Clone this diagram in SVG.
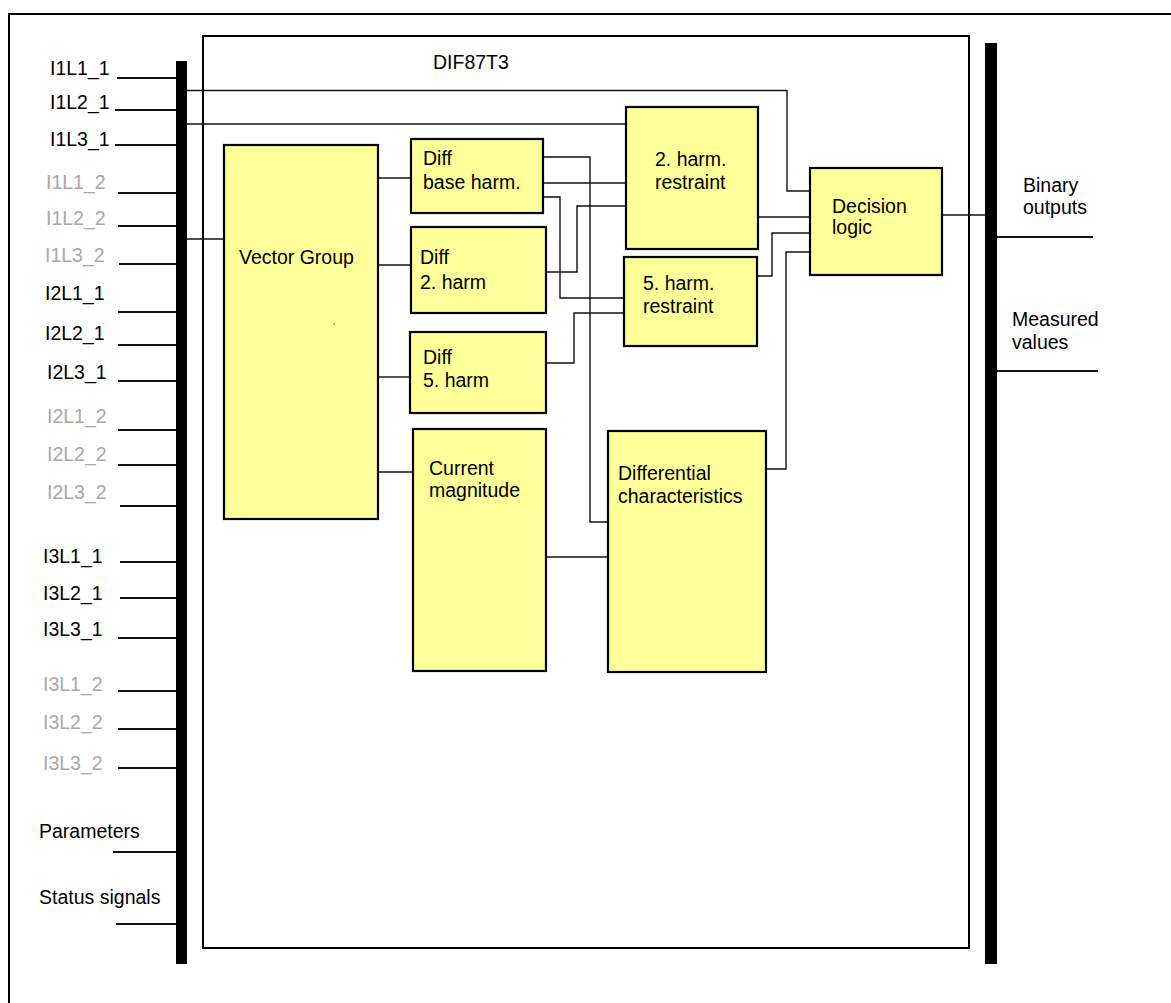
<svg xmlns="http://www.w3.org/2000/svg" width="1171" height="1003" viewBox="0 0 1171 1003">
<style>
text{font-family:"Liberation Sans",Arial,sans-serif;font-size:19.5px;fill:#000}
.g{fill:#a8a8a8}
.blk{fill:#ffff99;stroke:#000;stroke-width:2.2}
.w{fill:none;stroke:#111;stroke-width:1.4}
.in{fill:none;stroke:#000;stroke-width:2}
.bus{fill:#000}
</style>
<rect x="9" y="14" width="1175" height="1000" fill="none" stroke="#000" stroke-width="2"/>
<rect x="203" y="36" width="766" height="912" class="in"/>
<text x="433" y="69">DIF87T3</text>
<g id="bus-left"><rect class="bus" x="176" y="61" width="11" height="903"/></g>
<g id="bus-right"><rect class="bus" x="985" y="43" width="12" height="921"/></g>
<g id="inputs">
<text x="50" y="75">I1L1_1</text>
<text x="50" y="109">I1L2_1</text>
<text x="50" y="146">I1L3_1</text>
<text class="g" x="46" y="189">I1L1_2</text>
<text class="g" x="46" y="225">I1L2_2</text>
<text class="g" x="45" y="262">I1L3_2</text>
<text x="45" y="300">I2L1_1</text>
<text x="45" y="340">I2L2_1</text>
<text x="47" y="379">I2L3_1</text>
<text class="g" x="47" y="423">I2L1_2</text>
<text class="g" x="47" y="461">I2L2_2</text>
<text class="g" x="47" y="499">I2L3_2</text>
<text x="43" y="563">I3L1_1</text>
<text x="43" y="600">I3L2_1</text>
<text x="43" y="636">I3L3_1</text>
<text class="g" x="43" y="691">I3L1_2</text>
<text class="g" x="43" y="729">I3L2_2</text>
<text class="g" x="43" y="770">I3L3_2</text>
<text x="39" y="838">Parameters</text>
<text x="39" y="904">Status signals</text>
</g>
<g id="input-lines" class="w" stroke-width="2">
<path class="w" style="stroke-width:2" d="M117 78H176M115 110H176M115 145H176M118 193H176M118 226H176M119 264H176M118 312H176M118 345H176M118 381H176M118 430H176M118 465H176M120 506H176M120 562H176M120 598H176M118 638H176M118 691H176M118 729H176M118 768H176M113 852H176M116 924H176"/>
</g>
<g id="outputs">
<text x="1023" y="192">Binary</text>
<text x="1023" y="214">outputs</text>
<text x="1012" y="326">Measured</text>
<text x="1012" y="349">values</text>
<path class="w" style="stroke-width:2" d="M997 237H1093M997 371H1098"/>
</g>
<g id="connectors" class="w">
<path d="M187 90.5H787V191H810"/>
<path d="M187 124H626"/>
<path d="M187 239H224"/>
<path d="M378 178H411"/>
<path d="M378 265H411"/>
<path d="M378 377H410"/>
<path d="M378 472H413"/>
<path d="M543 157H590V522H608"/>
<path d="M543 183H626"/>
<path d="M543 197H560V298H624"/>
<path d="M546 272H577V206H626"/>
<path d="M546 363H574V313H624"/>
<path d="M758 217H810"/>
<path d="M757 276H772V233H810"/>
<path d="M766 469H786V252H810"/>
<path d="M546 557H608"/>
<path d="M942 215H985"/>
</g>
<g id="vector-group">
<rect class="blk" x="224" y="145" width="154" height="374"/>
<text x="239" y="264">Vector Group</text>
<rect x="333.5" y="323.5" width="1" height="1" fill="#000"/>
</g>
<g id="diff-base">
<rect class="blk" x="411" y="139" width="132" height="74"/>
<text x="423" y="165">Diff</text>
<text x="423" y="189">base harm.</text>
</g>
<g id="diff-2">
<rect class="blk" x="411" y="227" width="135" height="86"/>
<text x="420" y="264">Diff</text>
<text x="420" y="289">2. harm</text>
</g>
<g id="diff-5">
<rect class="blk" x="410" y="332" width="136" height="81"/>
<text x="423" y="364">Diff</text>
<text x="423" y="387">5. harm</text>
</g>
<g id="restraint-2">
<rect class="blk" x="626" y="107" width="132" height="142"/>
<text x="655" y="166">2. harm.</text>
<text x="655" y="189">restraint</text>
</g>
<g id="restraint-5">
<rect class="blk" x="624" y="257" width="133" height="89"/>
<text x="643" y="290">5. harm.</text>
<text x="643" y="313">restraint</text>
</g>
<g id="decision">
<rect class="blk" x="810" y="168" width="132" height="107"/>
<text x="832" y="213">Decision</text>
<text x="832" y="234">logic</text>
</g>
<g id="current-magnitude">
<rect class="blk" x="413" y="429" width="133" height="242"/>
<text x="429" y="475">Current</text>
<text x="429" y="497">magnitude</text>
</g>
<g id="differential">
<rect class="blk" x="608" y="431" width="158" height="241"/>
<text x="618" y="480">Differential</text>
<text x="618" y="503">characteristics</text>
</g>
</svg>
